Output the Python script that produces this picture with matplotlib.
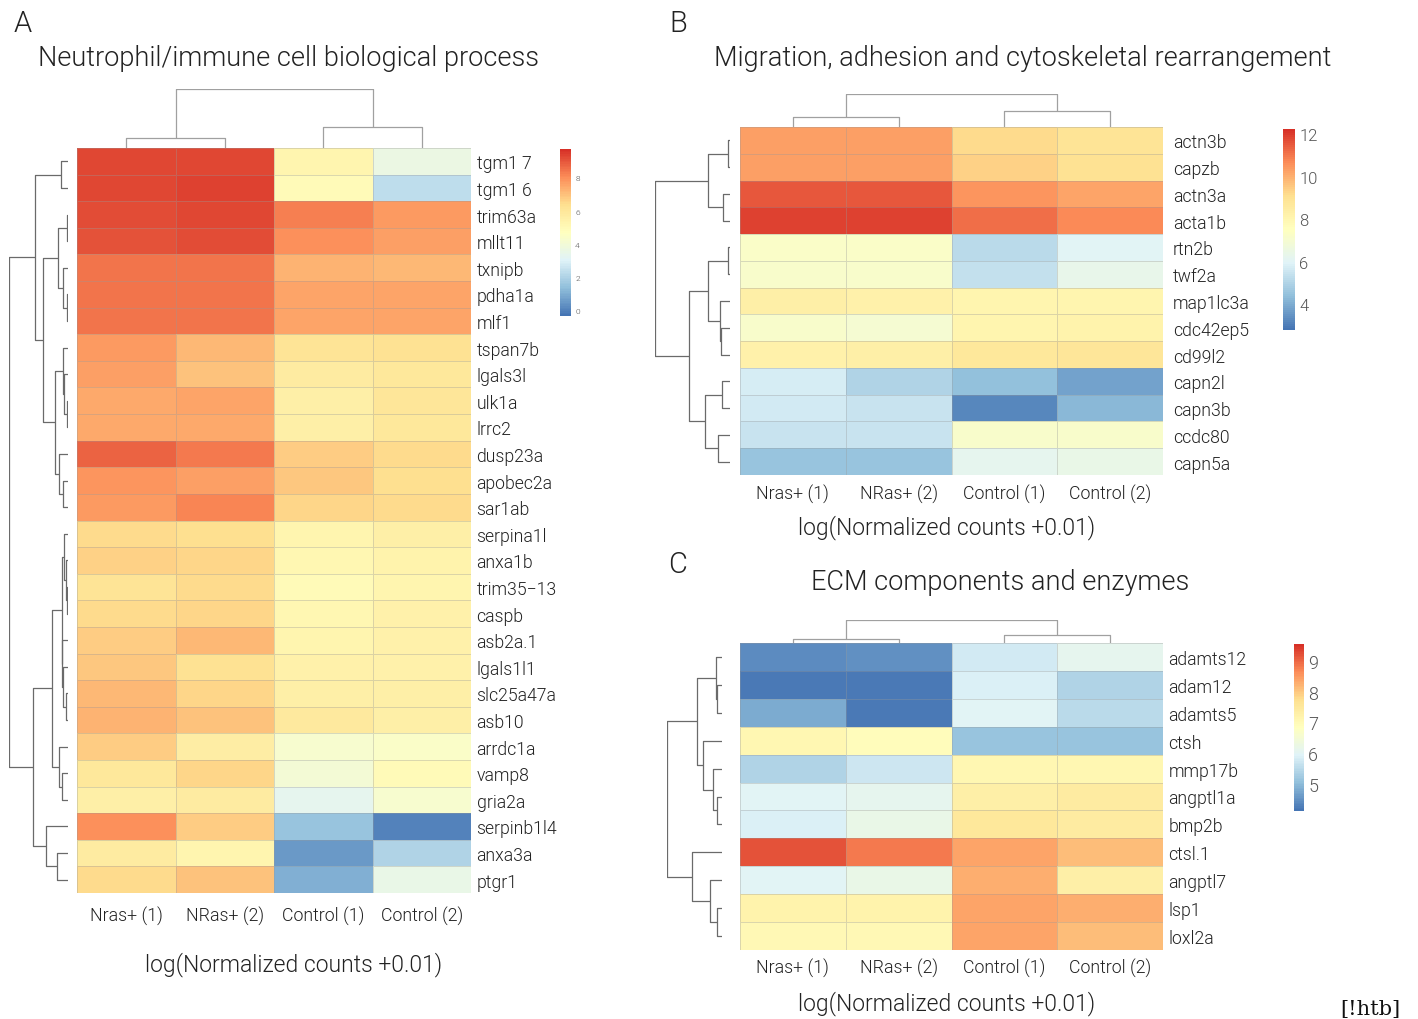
import numpy as np
import matplotlib
matplotlib.use("Agg")
import matplotlib.pyplot as plt
from matplotlib.colors import LinearSegmentedColormap

# ---------------- data ----------------
samples = ["Nras+ (1)", "NRas+ (2)", "Control (1)", "Control (2)"]

genes_a = ["tgm1 7", "tgm1 6", "trim63a", "mllt11", "txnipb", "pdha1a", "mlf1",
           "tspan7b", "lgals3l", "ulk1a", "lrrc2", "dusp23a", "apobec2a", "sar1ab",
           "serpina1l", "anxa1b", "trim35\u221213", "caspb", "asb2a.1", "lgals1l1",
           "slc25a47a", "asb10", "arrdc1a", "vamp8", "gria2a", "serpinb1l4", "anxa3a", "ptgr1"]
expr_a = [
    [9.3, 9.3, 5.3, 3.6],
    [9.3, 9.4, 5.0, 2.3],
    [9.2, 9.3, 8.3, 7.8],
    [9.1, 9.2, 8.0, 7.7],
    [8.5, 8.5, 7.3, 7.2],
    [8.5, 8.5, 7.6, 7.6],
    [8.5, 8.5, 7.6, 7.6],
    [7.8, 7.2, 6.2, 6.3],
    [7.7, 7.0, 5.8, 6.0],
    [7.5, 7.6, 5.6, 6.1],
    [7.5, 7.5, 5.6, 6.0],
    [8.8, 8.4, 6.8, 6.5],
    [7.9, 7.7, 6.9, 6.4],
    [7.8, 8.2, 6.6, 6.5],
    [6.5, 6.4, 5.3, 5.6],
    [6.7, 6.6, 5.2, 5.4],
    [6.2, 6.5, 5.0, 5.3],
    [6.5, 6.6, 5.2, 5.5],
    [6.8, 7.2, 5.3, 5.5],
    [6.9, 6.3, 5.5, 5.5],
    [7.2, 6.6, 5.6, 5.6],
    [7.3, 7.0, 5.9, 5.6],
    [6.8, 5.7, 4.2, 4.4],
    [6.0, 6.6, 4.0, 5.0],
    [5.6, 5.8, 3.3, 4.2],
    [8.0, 6.8, 1.5, 0.0],
    [5.8, 5.3, 0.5, 2.0],
    [6.5, 7.0, 1.0, 3.5],
]
# merges: (child1, child2, height); children index leaves 0..n-1, then merges n, n+1, ...
row_merges_a = [(0, 1, 7), (2, 3, 1), (5, 6, 1), (4, 30, 5), (29, 31, 10),
                (9, 10, 1), (8, 33, 4), (7, 34, 5), (12, 13, 5), (11, 36, 9),
                (35, 37, 13), (32, 38, 25), (28, 39, 33), (16, 17, 1), (15, 41, 2),
                (14, 42, 4), (20, 21, 2), (19, 44, 5), (18, 45, 5.7), (43, 46, 6.3),
                (23, 24, 6), (22, 48, 9), (47, 49, 16), (26, 27, 11), (25, 51, 22),
                (50, 52, 35), (40, 53, 59)]
col_merges_a = [(0, 1, 10), (2, 3, 21), (4, 5, 59)]
ticks_a = [0, 2, 4, 6, 8]

genes_b = ["actn3b", "capzb", "actn3a", "acta1b", "rtn2b", "twf2a", "map1lc3a",
           "cdc42ep5", "cd99l2", "capn2l", "capn3b", "ccdc80", "capn5a"]
expr_b = [
    [10.3, 10.3, 9.2, 8.9],
    [10.3, 10.3, 9.4, 9.0],
    [11.5, 11.5, 10.5, 10.2],
    [11.9, 11.9, 11.2, 10.7],
    [7.3, 7.3, 5.2, 6.0],
    [7.2, 7.2, 5.4, 6.3],
    [8.3, 8.2, 8.0, 8.0],
    [7.2, 7.0, 8.0, 8.1],
    [8.2, 8.3, 8.7, 8.8],
    [5.8, 5.0, 4.4, 3.8],
    [5.7, 5.5, 3.2, 4.2],
    [5.5, 5.5, 7.2, 7.2],
    [4.5, 4.5, 6.2, 6.4],
]
row_merges_b = [(0, 1, 2), (2, 3, 7), (13, 14, 22), (4, 5, 2), (7, 8, 9), (6, 17, 10),
                (16, 18, 22), (9, 10, 8), (11, 12, 12), (20, 21, 25), (19, 22, 41),
                (15, 23, 75)]
col_merges_b = [(0, 1, 10), (2, 3, 16), (4, 5, 33)]
ticks_b = [4, 6, 8, 10, 12]

genes_c = ["adamts12", "adam12", "adamts5", "ctsh", "mmp17b", "angptl1a", "bmp2b",
           "ctsl.1", "angptl7", "lsp1", "loxl2a"]
expr_c = [
    [4.4, 4.5, 5.8, 6.1],
    [4.2, 4.2, 5.9, 5.4],
    [4.8, 4.2, 6.0, 5.5],
    [7.1, 6.9, 5.1, 5.1],
    [5.4, 5.7, 7.1, 7.1],
    [6.0, 6.1, 7.3, 7.4],
    [5.9, 6.2, 7.5, 7.4],
    [9.2, 8.8, 8.4, 8.1],
    [6.0, 6.2, 8.3, 7.3],
    [7.2, 7.2, 8.4, 8.3],
    [7.0, 7.0, 8.4, 8.1],
]
row_merges_c = [(1, 2, 5), (0, 11, 6), (5, 6, 5), (4, 13, 9), (3, 14, 19), (12, 15, 25),
                (9, 10, 5), (8, 17, 12), (7, 18, 30), (16, 19, 55)]
col_merges_c = [(0, 1, 4), (2, 3, 8), (4, 5, 23)]
ticks_c = [5, 6, 7, 8, 9]

# ---------------- style ----------------
W, H = 1418, 1020
plt.rcParams["font.family"] = ["Roboto", "DejaVu Sans"]
plt.rcParams["font.weight"] = 300
TXT = "#222222"
cmap = LinearSegmentedColormap.from_list(
    "rdylbu7", ["#4575B4", "#91BFDB", "#E0F3F8", "#FFFFBF", "#FEE090", "#FC8D59", "#D73027"], N=100)

fig = plt.figure(figsize=(W / 100, H / 100), dpi=100)


def px_axes(x0, y0, x1, y1):
    return fig.add_axes([x0 / W, 1 - y1 / H, (x1 - x0) / W, (y1 - y0) / H])


def dendro_segments(n, merges):
    pos = list(np.arange(n) + 0.5)
    hts = [0.0] * n
    segs = []
    for a, b, h in merges:
        pa, pb = pos[a], pos[b]
        segs.append(([hts[a], h, h, hts[b]], [pa, pa, pb, pb]))
        pos.append((pa + pb) / 2)
        hts.append(h)
    return segs


def panel(genes, expr, row_merges, col_merges, ticks, vmin, vmax, hm, rd, cd, cb,
          tick_fs, col_y, lab_xy, title, title_xy, letter, letter_xy, gene_pad):
    data = np.array(expr)
    n = len(genes)
    ax = px_axes(*hm)
    mesh = ax.pcolormesh(np.arange(5), np.arange(n + 1), data, cmap=cmap, vmin=vmin, vmax=vmax,
                         edgecolors=(0.6, 0.6, 0.6, 0.35), linewidth=0.5)
    ax.set_xlim(0, 4)
    ax.set_ylim(n, 0)
    ax.yaxis.tick_right()
    ax.set_yticks(np.arange(n) + 0.5)
    ax.set_yticklabels(genes, fontsize=12.7, color=TXT)
    ax.tick_params(axis="y", length=0, pad=gene_pad)
    ax.set_xticks([])
    for s in ax.spines.values():
        s.set_visible(False)
    x0, _, x1, _ = hm
    for i, s in enumerate(samples):
        fig.text((x0 + (x1 - x0) * (i + 0.5) / 4) / W, 1 - col_y / H, s,
                 ha="center", va="center", fontsize=12.8, color=TXT)
    fig.text(lab_xy[0] / W, 1 - lab_xy[1] / H, "log(Normalized counts +0.01)",
             ha="center", va="center", fontsize=16.5, color=TXT)

    # row dendrogram
    ax_r = px_axes(*rd)
    rmax = max(h for _, _, h in row_merges)
    for xs, ys in dendro_segments(n, row_merges):
        ax_r.plot(xs, ys, color="#6a6a6a", lw=0.9, solid_capstyle="butt")
    ax_r.set_xlim(rmax, 0)
    ax_r.set_ylim(n, 0)
    ax_r.axis("off")

    # column dendrogram
    ax_c = px_axes(*cd)
    cmax = max(h for _, _, h in col_merges)
    for xs, ys in dendro_segments(4, col_merges):
        ax_c.plot(ys, xs, color="#a0a0a0", lw=0.9, solid_capstyle="butt")
    ax_c.set_xlim(0, 4)
    ax_c.set_ylim(0, cmax)
    ax_c.axis("off")

    # colorbar
    cax = px_axes(*cb)
    cbar = fig.colorbar(mesh, cax=cax, ticks=ticks)
    cbar.outline.set_visible(False)
    cax.tick_params(length=0, labelsize=tick_fs, labelcolor="#555555", pad=3)

    fig.text(title_xy[0] / W, 1 - title_xy[1] / H, title, ha="center", va="center",
             fontsize=19.5, color=TXT)
    fig.text(letter_xy[0] / W, 1 - letter_xy[1] / H, letter, ha="center", va="center",
             fontsize=21, color=TXT)


panel(genes_a, expr_a, row_merges_a, col_merges_a, ticks_a, -0.35, 9.75,
      hm=(77, 149, 471, 894), rd=(9, 149, 68, 894), cd=(77, 90, 471, 149), cb=(560, 150, 571, 317),
      tick_fs=6, col_y=916, lab_xy=(294, 965),
      title="Neutrophil/immune cell biological process", title_xy=(288, 59),
      letter="A", letter_xy=(23, 24), gene_pad=4)

panel(genes_b, expr_b, row_merges_b, col_merges_b, ticks_b, 2.77, 12.25,
      hm=(740, 128, 1163, 476), rd=(655, 128, 730, 476), cd=(740, 95, 1163, 128), cb=(1283, 130, 1295, 331),
      tick_fs=12, col_y=494, lab_xy=(947, 528),
      title="Migration, adhesion and cytoskeletal rearrangement", title_xy=(1023, 59),
      letter="B", letter_xy=(678, 24), gene_pad=7)

panel(genes_c, expr_c, row_merges_c, col_merges_c, ticks_c, 4.12, 9.55,
      hm=(740, 644, 1163, 951), rd=(667, 644, 722, 951), cd=(740, 621, 1163, 644), cb=(1294, 645, 1304, 812),
      tick_fs=13, col_y=968, lab_xy=(947, 1004),
      title="ECM components and enzymes", title_xy=(1000, 583),
      letter="C", letter_xy=(678, 565), gene_pad=4)

fig.text(1370 / W, 1 - 1010 / H, "[!htb]", ha="center", va="center", fontsize=15,
         family="DejaVu Serif", weight="normal", color="#111111")

fig.savefig("out.png", dpi=100)
